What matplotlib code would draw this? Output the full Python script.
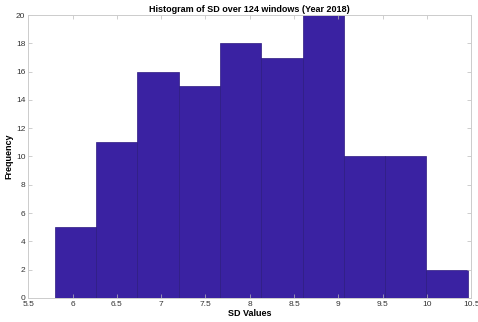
import matplotlib.pyplot as plt
import numpy as np

# histogram of SD values, 10 bins
bin_start = 5.80
bin_width = 0.466
counts = [5, 11, 16, 15, 18, 17, 20, 10, 10, 2]
xticks = [5.5, 6, 6.5, 7, 7.5, 8, 8.5, 9, 9.5, 10, 10.5]
yticks = [0, 2, 4, 6, 8, 10, 12, 14, 16, 18, 20]

edges = bin_start + bin_width * np.arange(len(counts) + 1)

plt.rcParams['font.family'] = ['Liberation Sans', 'DejaVu Sans']
fig = plt.figure(figsize=(4.78, 3.22), dpi=100)
ax = fig.add_axes([0.059, 0.075, 0.927, 0.878])

ax.bar(edges[:-1], counts, width=bin_width, align='edge',
       color='#3a22a2', edgecolor='#2c1a80', linewidth=0.5)

ax.set_xlim(5.5, 10.5)
ax.set_ylim(0, 20)
ax.set_xticks(xticks)
ax.set_xticklabels([f'{t:g}' for t in xticks])
ax.set_yticks(yticks)
ax.tick_params(direction='in', length=3, width=0.5, labelsize=6,
               colors='#bbbbbb', labelcolor='#333333', top=True, right=True, pad=2)
for s in ax.spines.values():
    s.set_color('#cccccc')
    s.set_linewidth(0.7)

ax.set_title('Histogram of SD over 124 windows (Year 2018)', fontsize=6.5,
             fontweight='bold', pad=2)
ax.set_xlabel('SD Values', fontsize=6.5, fontweight='bold', labelpad=1)
ax.set_ylabel('Frequency', fontsize=6.5, fontweight='bold', labelpad=2)

fig.savefig('out.png', dpi=100)
